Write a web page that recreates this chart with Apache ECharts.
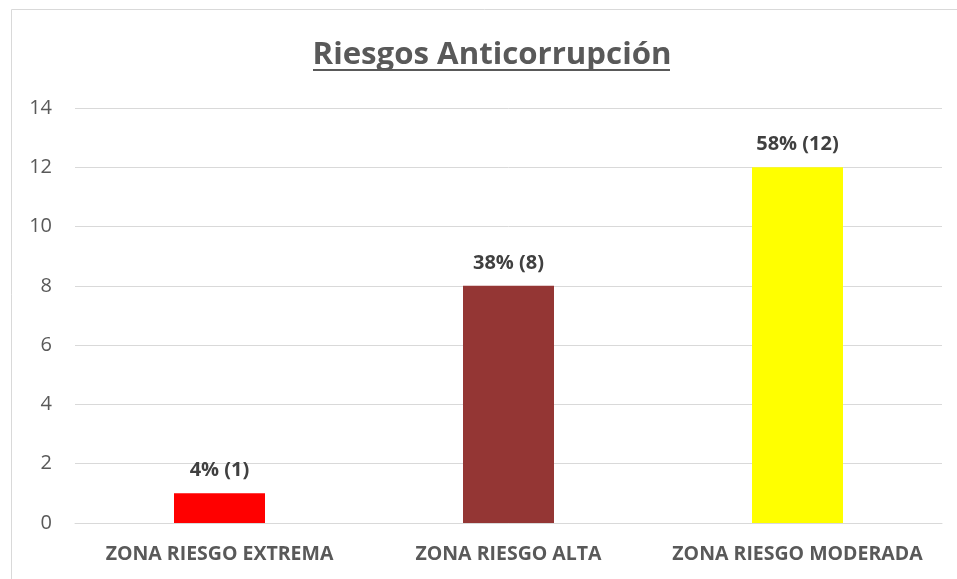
<!DOCTYPE html>
<html>
<head>
<meta charset="utf-8">
<script src="https://cdn.jsdelivr.net/npm/echarts@6/dist/echarts.min.js"></script>
<style>
  html, body { margin: 0; padding: 0; background: #fff; }
  #chart { width: 957px; height: 579px; }
</style>
</head>
<body>
<div id="chart"></div>
<script>
// datos del gráfico
const categories = ["ZONA RIESGO EXTREMA", "ZONA RIESGO ALTA", "ZONA RIESGO MODERADA"];
const counts = [1, 8, 12];
const percents = ["4%", "38%", "58%"];
const barColors = ["#FF0000", "#943634", "#FFFF00"];
const yTicks = [0, 2, 4, 6, 8, 10, 12, 14];

const chart = echarts.init(document.getElementById("chart"));
const font = "Open Sans";

chart.setOption({
  animation: false,
  graphic: [
    // marco exterior
    {
      type: "rect",
      shape: { x: 11.5, y: 9.5, width: 960, height: 600 },
      style: { fill: "none", stroke: "#d9d9d9", lineWidth: 1 },
      silent: true
    },
    // subrayado del título
    {
      type: "line",
      shape: { x1: 313, y1: 70, x2: 670, y2: 70 },
      style: { stroke: "#595959", lineWidth: 2 },
      silent: true
    }
  ],
  title: {
    text: "Riesgos Anticorrupción",
    left: "487",
    top: 35,
    textAlign: "center",
    textStyle: {
      fontFamily: font,
      fontSize: 31.2,
      fontWeight: "bold",
      color: "#595959"
    }
  },
  grid: {
    left: 75,
    right: 15,
    top: 108,
    bottom: 56
  },
  xAxis: {
    type: "category",
    data: categories,
    axisLine: { show: true, lineStyle: { color: "#d9d9d9", width: 1 } },
    axisTick: { show: false },
    axisLabel: {
      interval: 0,
      hideOverlap: false,
      margin: 21,
      fontFamily: font,
      fontSize: 19.5,
      fontWeight: "bold",
      color: "#595959"
    }
  },
  yAxis: {
    type: "value",
    min: yTicks[0],
    max: yTicks[yTicks.length - 1],
    interval: 2,
    axisLine: { show: false },
    axisTick: { show: false },
    splitLine: { lineStyle: { color: "#d9d9d9", width: 1 } },
    axisLabel: {
      margin: 23,
      fontFamily: font,
      fontSize: 20,
      color: "#595959"
    }
  },
  series: [
    {
      type: "bar",
      barWidth: 91,
      data: counts.map((v, i) => ({
        value: v,
        itemStyle: { color: barColors[i] }
      })),
      label: {
        show: true,
        position: "top",
        distance: 13,
        formatter: (p) => percents[p.dataIndex] + " (" + p.value + ")",
        fontFamily: font,
        fontSize: 20,
        fontWeight: "bold",
        color: "#404040"
      }
    }
  ]
});
</script>
</body>
</html>
